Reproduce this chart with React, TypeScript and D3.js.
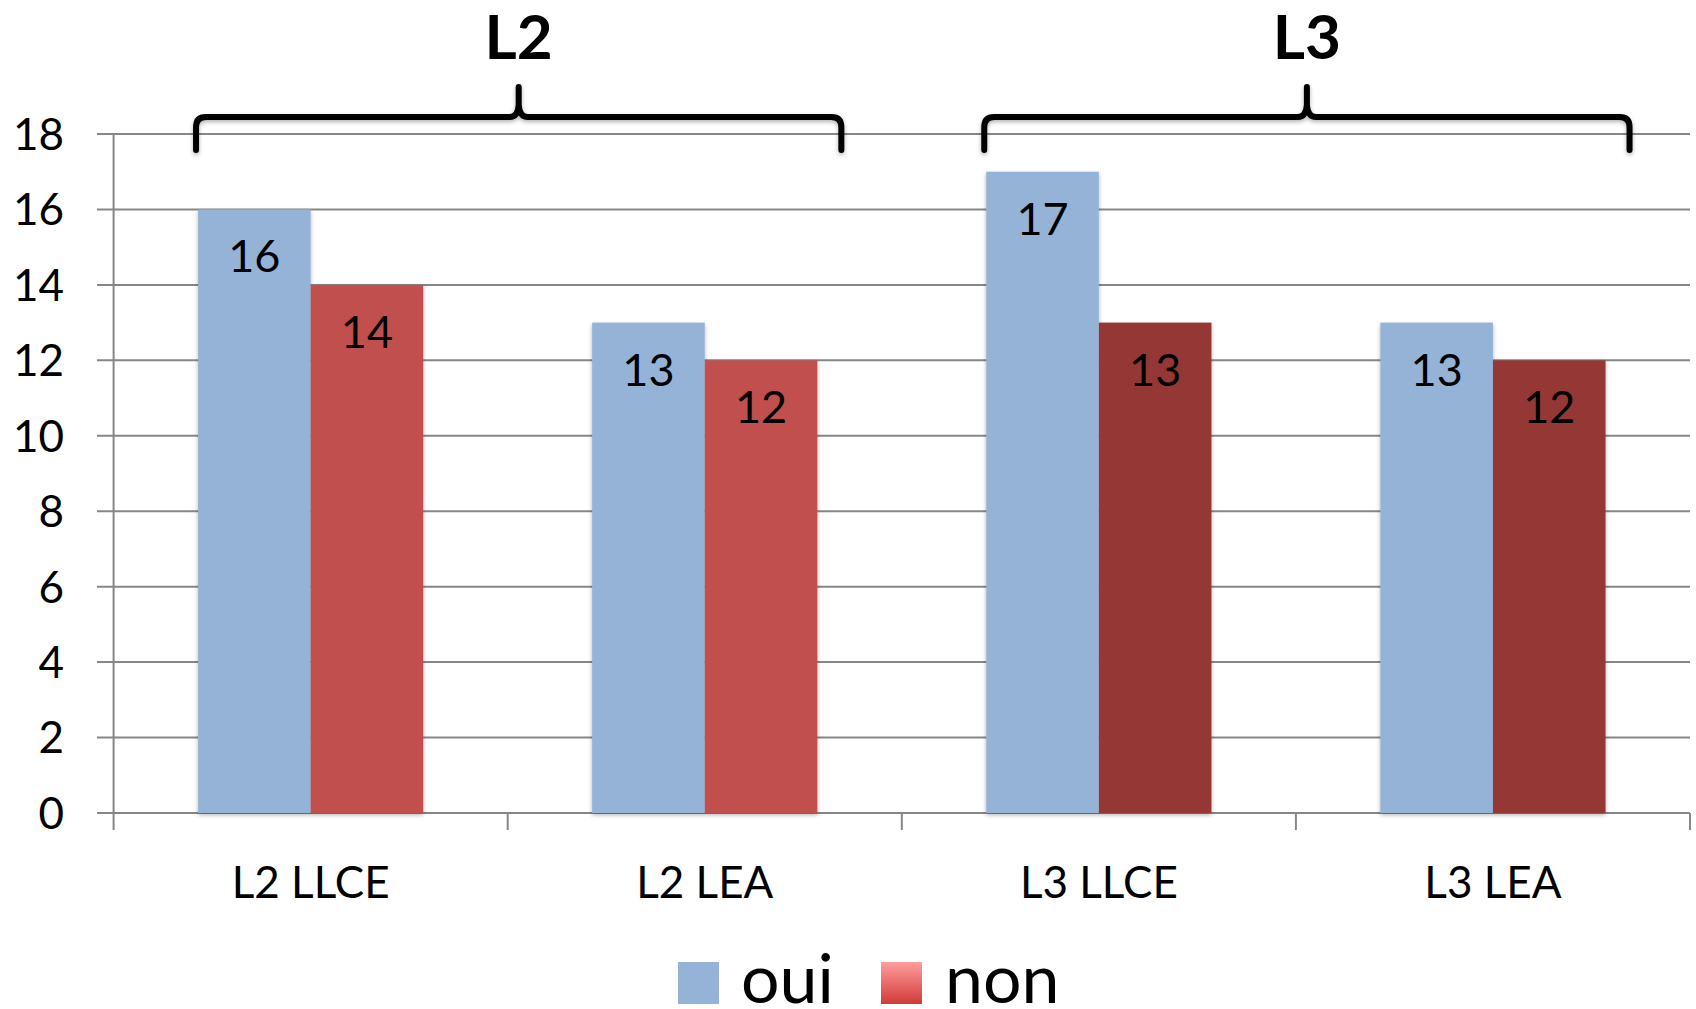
import React from "react";
import * as d3 from "d3";

const categories = ["L2 LLCE", "L2 LEA", "L3 LLCE", "L3 LEA"];
const ouiValues = [16, 13, 17, 13];
const nonValues = [14, 12, 13, 12];
const yTicks = [0, 2, 4, 6, 8, 10, 12, 14, 16, 18];
const groups = [
  { label: "L2", from: 0, to: 1 },
  { label: "L3", from: 2, to: 3 },
];
const seriesNames = ["oui", "non"];

const WIDTH = 1696;
const HEIGHT = 1009;
const FONT = "Lato, 'Open Sans', sans-serif";

const OUI_COLOR = "#95b3d7";
const NON_L2 = "#c0504d";
const NON_L3 = "#953735";

export default function App() {
  const x = d3.scaleBand<string>().domain(categories).range([113.6, 1690]).paddingInner(0);
  const y = d3.scaleLinear().domain([0, 18]).range([813, 134]);
  const band = x.bandwidth();
  const barW = band / 3.5;
  const off = barW * 0.75;

  const nonColor = (i: number) => (i < 2 ? NON_L2 : NON_L3);

  const bracePath = (x0: number, x1: number) => {
    const xc = (x0 + x1) / 2;
    const top = 117;
    const bottom = 150;
    const tip = 87;
    return (
      `M${x0},${bottom} L${x0},${top + 10} Q${x0},${top} ${x0 + 10},${top} ` +
      `L${xc - 9},${top} Q${xc - 1},${top} ${xc},${top - 12} L${xc},${tip} ` +
      `M${xc},${top - 12} Q${xc + 1},${top} ${xc + 9},${top} ` +
      `L${x1 - 10},${top} Q${x1},${top} ${x1},${top + 10} L${x1},${bottom}`
    );
  };

  return (
    <>
      <style>{"body{margin:0}"}</style>
      <svg width={WIDTH} height={HEIGHT} style={{ display: "block", background: "#fff" }}>
        <defs>
          <filter id="shadow" x="-10%" y="-10%" width="120%" height="130%">
            <feDropShadow dx="0" dy="2" stdDeviation="2" floodColor="#000" floodOpacity="0.3" />
          </filter>
          <linearGradient id="nonLegend" x1="0" y1="0" x2="0" y2="1">
            <stop offset="0%" stopColor="#ff9e9e" />
            <stop offset="100%" stopColor="#d03a38" />
          </linearGradient>
        </defs>

        {/* grid lines */}
        {yTicks.map((t) => (
          <line key={t} x1={97} x2={1690} y1={y(t)} y2={y(t)} stroke="#878787" strokeWidth={2} />
        ))}
        {/* y axis */}
        <line x1={113.6} x2={113.6} y1={y(18)} y2={y(0) + 17} stroke="#878787" strokeWidth={2} />
        {categories.map((c, i) => (
          <line
            key={c}
            x1={(x(c) as number) + band}
            x2={(x(c) as number) + band}
            y1={y(0)}
            y2={y(0) + 17}
            stroke="#878787"
            strokeWidth={2}
          />
        ))}
        {yTicks.map((t) => (
          <text key={t} x={64} y={y(t)} dy="0.36em" textAnchor="end" fontFamily={FONT} fontSize={44} fill="#000">
            {t}
          </text>
        ))}

        {/* bars */}
        {categories.map((c, i) => {
          const x0 = (x(c) as number) + off;
          return (
            <g key={c} filter="url(#shadow)">
              <rect x={x0} y={y(ouiValues[i])} width={barW} height={y(0) - y(ouiValues[i])} fill={OUI_COLOR} />
              <rect x={x0 + barW} y={y(nonValues[i])} width={barW} height={y(0) - y(nonValues[i])} fill={nonColor(i)} />
            </g>
          );
        })}
        {/* data labels */}
        {categories.map((c, i) => {
          const x0 = (x(c) as number) + off;
          return (
            <g key={c} fontFamily={FONT} fontSize={45} fill="#000" textAnchor="middle">
              <text x={x0 + barW / 2} y={y(ouiValues[i]) + 63}>{ouiValues[i]}</text>
              <text x={x0 + barW * 1.5} y={y(nonValues[i]) + 63}>{nonValues[i]}</text>
            </g>
          );
        })}

        {/* category labels */}
        {categories.map((c) => (
          <text
            key={c}
            x={(x(c) as number) + band / 2}
            y={898}
            textAnchor="middle"
            fontFamily={FONT}
            fontSize={44}
            fill="#000"
          >
            {c}
          </text>
        ))}

        {/* group braces */}
        {groups.map((g) => {
          const x0 = (x(categories[g.from]) as number) + off - 2;
          const x1 = (x(categories[g.to]) as number) + off + 2 * barW + 24;
          return (
            <g key={g.label}>
              <path
                d={bracePath(x0, x1)}
                fill="none"
                stroke="#000"
                strokeWidth={6}
                strokeLinecap="round"
                strokeLinejoin="round"
                filter="url(#shadow)"
              />
              <text
                x={(x0 + x1) / 2}
                y={59}
                textAnchor="middle"
                fontFamily={FONT}
                fontWeight="bold"
                fontSize={62}
                fill="#000"
              >
                {g.label}
              </text>
            </g>
          );
        })}

        {/* legend */}
        <g fontFamily={FONT} fontSize={68} fill="#000">
          <rect x={678} y={962} width={41} height={42} fill={OUI_COLOR} />
          <text x={741} y={1003}>{seriesNames[0]}</text>
          <rect x={881} y={962} width={41} height={42} fill="url(#nonLegend)" />
          <text x={945} y={1003}>{seriesNames[1]}</text>
        </g>
      </svg>
    </>
  );
}
